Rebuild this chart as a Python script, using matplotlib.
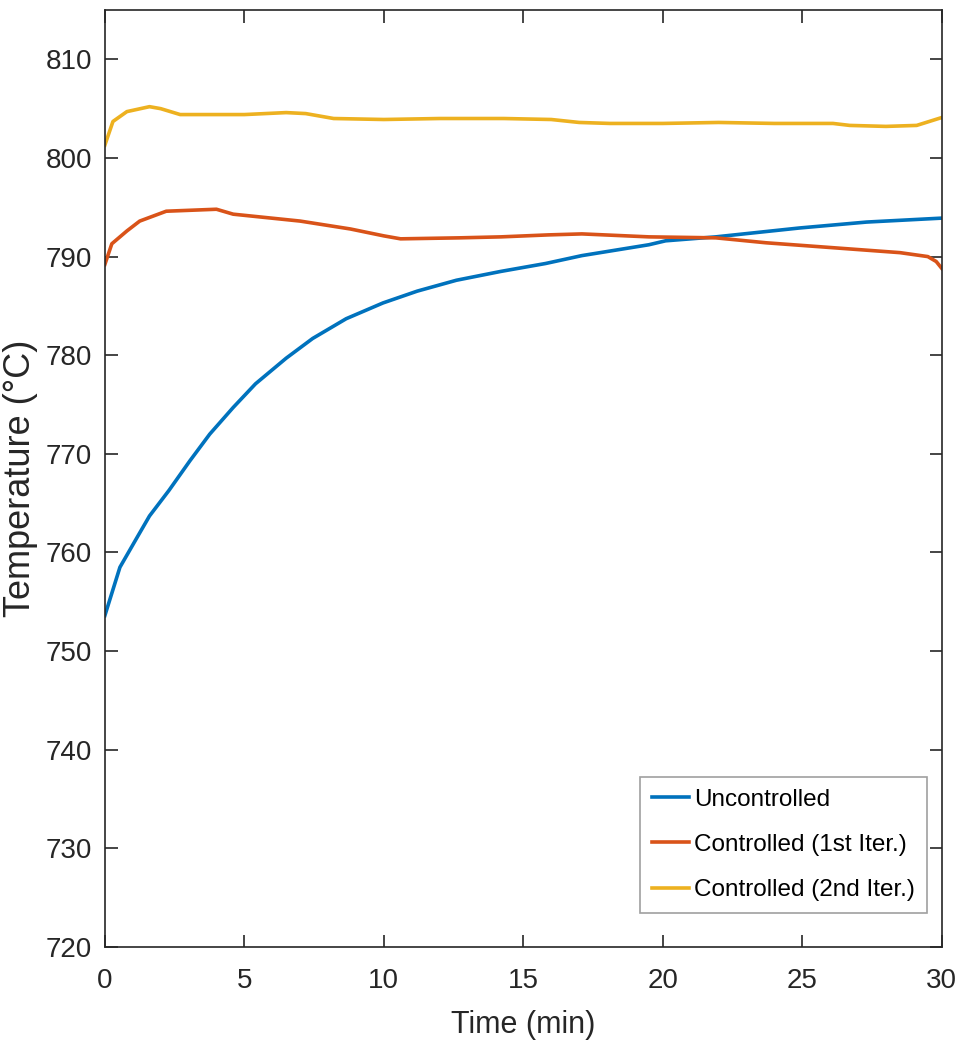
import numpy as np
import matplotlib
matplotlib.use("Agg")
import matplotlib.pyplot as plt

# Uncontrolled
t_unc = [0, 0.54, 1.15, 1.6, 2.3, 3.05, 3.76, 4.6, 5.4, 6.5, 7.45, 8.65, 9.97,
         11.2, 12.6, 14.2, 15.8, 17.1, 19.5, 20.1, 21.9, 24.9, 27.3, 30]
T_unc = [753.6, 758.5, 761.5, 763.7, 766.3, 769.3, 772.0, 774.7, 777.1, 779.7,
         781.7, 783.7, 785.3, 786.5, 787.6, 788.5, 789.3, 790.1, 791.2, 791.6,
         792.0, 792.9, 793.5, 793.9]

# Controlled (1st iteration)
t_c1 = [0, 0.25, 0.79, 1.25, 2.2, 4.0, 4.6, 7.0, 8.8, 10.0, 10.6, 12.7, 14.2,
        15.9, 17.1, 19.5, 21.9, 23.7, 26.1, 28.5, 29.5, 29.8, 30]
T_c1 = [789.2, 791.3, 792.6, 793.6, 794.6, 794.8, 794.3, 793.6, 792.8, 792.1,
        791.8, 791.9, 792.0, 792.2, 792.3, 792.0, 791.9, 791.4, 790.9, 790.4,
        790.0, 789.5, 788.8]

# Controlled (2nd iteration)
t_c2 = [0, 0.29, 0.79, 1.6, 2.0, 2.7, 4.0, 5.0, 6.5, 7.2, 8.2, 10.0, 12.0, 14.3,
        16.0, 17.0, 18.1, 20, 22, 24, 26.1, 26.7, 28.0, 29.1, 30]
T_c2 = [801.3, 803.7, 804.7, 805.2, 805.0, 804.4, 804.4, 804.4, 804.6, 804.5,
        804.0, 803.9, 804.0, 804.0, 803.9, 803.6, 803.5, 803.5, 803.6, 803.5,
        803.5, 803.3, 803.2, 803.3, 804.1]

labels = ["Uncontrolled", "Controlled (1st Iter.)", "Controlled (2nd Iter.)"]
colors = ["#0072BD", "#D95319", "#EDB120"]

plt.rcParams["font.family"] = ["Liberation Sans", "DejaVu Sans"]

fig = plt.figure(figsize=(9.62, 10.55), dpi=100)
ax = fig.add_axes([0.109, 0.1024, 0.870, 0.8881])

for t, T, lab, c in zip([t_unc, t_c1, t_c2], [T_unc, T_c1, T_c2], labels, colors):
    ax.plot(t, T, color=c, lw=2.6, label=lab)

ax.set_xlim(0, 30)
ax.set_ylim(720, 815)
ax.set_xticks(np.arange(0, 31, 5))
ax.set_yticks(np.arange(720, 811, 10))

ax.tick_params(direction="in", length=9, width=1.2, colors="#262626",
               labelsize=20, top=True, right=True)
ax.tick_params(axis="y", pad=9)
ax.tick_params(axis="x", pad=15)
for s in ax.spines.values():
    s.set_color("#262626")
    s.set_linewidth(1.2)

ax.set_xlabel("Time (min)", fontsize=22, color="#262626", labelpad=12)
ax.set_ylabel("Temperature (\u00b0C)", fontsize=26, color="#262626", labelpad=6)

leg = ax.legend(loc="lower right", bbox_to_anchor=(0.982, 0.036), borderaxespad=0,
                fontsize=17.5, handlelength=1.5, handletextpad=0.2, labelspacing=0.95,
                fancybox=False, framealpha=1, edgecolor="#a0a0a0", borderpad=0.5)
leg.get_frame().set_linewidth(1.2)

fig.savefig("out.png", dpi=100)
